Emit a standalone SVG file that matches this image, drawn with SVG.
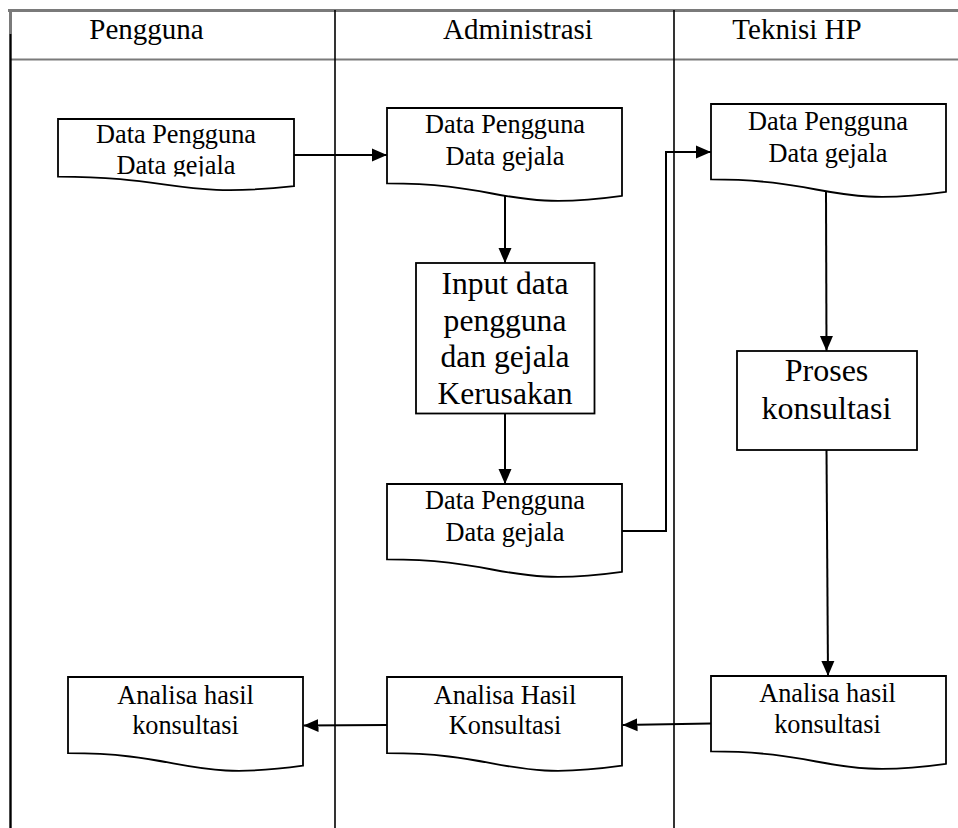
<svg xmlns="http://www.w3.org/2000/svg" width="958" height="828" viewBox="0 0 958 828">
  <defs>
    <style>
      .lane { stroke: #000; stroke-width: 1.6; fill: none; }
      .frame { stroke: #7a7a7a; stroke-width: 3; fill: none; }
      .hdr { font-family: "Liberation Serif", "Times New Roman", serif; font-size: 29px; fill: #000; text-anchor: middle; }
      .doc { fill: #fff; stroke: #000; stroke-width: 1.8; }
      .box { fill: #fff; stroke: #000; stroke-width: 1.8; }
      .dt { font-family: "Liberation Serif", "Times New Roman", serif; font-size: 26.3px; fill: #000; text-anchor: middle; }
      .pt { font-family: "Liberation Serif", "Times New Roman", serif; font-size: 31.6px; fill: #000; text-anchor: middle; }
      .edge { stroke: #000; stroke-width: 2; fill: none; }
    </style>
    <marker id="arrow" markerUnits="userSpaceOnUse" markerWidth="16" markerHeight="14" refX="15" refY="7" orient="auto">
      <path d="M0,0.5 L15,7 L0,13.5 Z" fill="#000"/>
    </marker>
    <clipPath id="clipA">
      <rect x="58" y="119" width="236" height="57.5"/>
    </clipPath>
  </defs>

  <!-- swimlane frame -->
  <g id="lanes">
    <line class="frame" x1="8" y1="10.5" x2="958" y2="10.5"/>
    <line x1="10" y1="59.5" x2="958" y2="59.5" stroke="#7a7a7a" stroke-width="2"/>
    <line x1="10.5" y1="10" x2="10.5" y2="34" stroke="#7a7a7a" stroke-width="3"/>
    <line x1="10.5" y1="34" x2="10.5" y2="828" stroke="#000" stroke-width="2.4"/>
    <line class="lane" x1="335" y1="10" x2="335" y2="828"/>
    <line class="lane" x1="674" y1="10" x2="674" y2="828"/>
    <text class="hdr" x="146.5" y="39">Pengguna</text>
    <text class="hdr" x="518" y="39">Administrasi</text>
    <text class="hdr" x="797" y="39">Teknisi HP</text>
  </g>

  <!-- connectors -->
  <g id="connectors">
    <line class="edge" x1="294" y1="155" x2="387" y2="155" marker-end="url(#arrow)"/>
    <line class="edge" x1="505" y1="196" x2="505" y2="263" marker-end="url(#arrow)"/>
    <line class="edge" x1="505" y1="413" x2="505" y2="484" marker-end="url(#arrow)"/>
    <polyline class="edge" points="622,531 666,531 666,152 711,152" marker-end="url(#arrow)"/>
    <line class="edge" x1="826" y1="192" x2="826.5" y2="351" marker-end="url(#arrow)"/>
    <line class="edge" x1="826.5" y1="450" x2="828" y2="676" marker-end="url(#arrow)"/>
    <line class="edge" x1="711" y1="723.5" x2="622.5" y2="725" marker-end="url(#arrow)"/>
    <line class="edge" x1="387" y1="725" x2="303.5" y2="725.5" marker-end="url(#arrow)"/>
  </g>

  <!-- user data document (Pengguna) -->
  <g id="doc-pengguna-data">
    <path class="doc" d="M58,119 H294 V186.2 C176,198.8 176,176.7 58,176.7 Z"/>
    <g clip-path="url(#clipA)">
      <text class="dt" x="176" y="143">Data Pengguna</text>
      <text class="dt" x="176" y="174">Data gejala</text>
    </g>
  </g>

  <!-- received data document (Administrasi) -->
  <g id="doc-admin-data">
    <path class="doc" d="M387,108 H622 V195.8 C504.5,212.2 504.5,183.4 387,183.4 Z"/>
    <text class="dt" x="505" y="133">Data Pengguna</text>
    <text class="dt" x="505" y="165">Data gejala</text>
  </g>

  <!-- input process -->
  <g id="proc-input">
    <rect class="box" x="416" y="263" width="178.5" height="150.5"/>
    <text class="pt" x="505" y="294">Input data</text>
    <text class="pt" x="505" y="330.5">pengguna</text>
    <text class="pt" x="505" y="367">dan gejala</text>
    <text class="pt" x="505" y="403.5">Kerusakan</text>
  </g>

  <!-- stored data document (Administrasi) -->
  <g id="doc-admin-stored">
    <path class="doc" d="M387,484 H622 V571.8 C504.5,588.2 504.5,559.4 387,559.4 Z"/>
    <text class="dt" x="505" y="508.5">Data Pengguna</text>
    <text class="dt" x="505" y="541">Data gejala</text>
  </g>

  <!-- data document (Teknisi HP) -->
  <g id="doc-teknisi-data">
    <path class="doc" d="M711,104 H946 V191.8 C828.5,208.2 828.5,179.4 711,179.4 Z"/>
    <text class="dt" x="828" y="129.5">Data Pengguna</text>
    <text class="dt" x="828" y="161.5">Data gejala</text>
  </g>

  <!-- consultation process -->
  <g id="proc-konsultasi">
    <rect class="box" x="737" y="351" width="180" height="99"/>
    <text class="pt" x="826.5" y="380.5" style="font-size:32px">Proses</text>
    <text class="pt" x="826.5" y="419" style="font-size:32px">konsultasi</text>
  </g>

  <!-- result document (Teknisi HP) -->
  <g id="doc-teknisi-hasil">
    <path class="doc" d="M711,676 H946 V763.8 C828.5,780.2 828.5,751.4 711,751.4 Z"/>
    <text class="dt" x="827.5" y="701.5">Analisa hasil</text>
    <text class="dt" x="827.5" y="732.5">konsultasi</text>
  </g>

  <!-- result document (Administrasi) -->
  <g id="doc-admin-hasil">
    <path class="doc" d="M387,677 H622 V765.7 C504.5,782.3 504.5,753.2 387,753.2 Z"/>
    <text class="dt" x="505" y="703.5">Analisa Hasil</text>
    <text class="dt" x="505" y="734">Konsultasi</text>
  </g>

  <!-- result document (Pengguna) -->
  <g id="doc-pengguna-hasil">
    <path class="doc" d="M68,677 H303 V765.7 C185.5,782.3 185.5,753.2 68,753.2 Z"/>
    <text class="dt" x="185.5" y="703.5">Analisa hasil</text>
    <text class="dt" x="185.5" y="734">konsultasi</text>
  </g>
</svg>
